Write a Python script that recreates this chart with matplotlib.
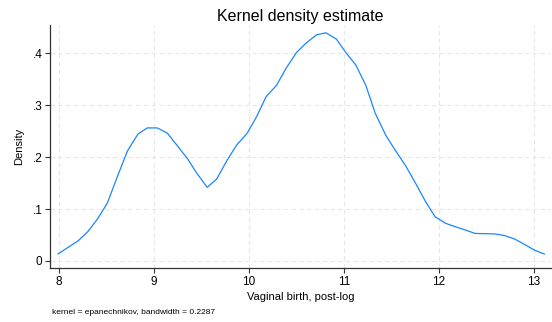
import matplotlib
matplotlib.use('Agg')
import matplotlib.pyplot as plt
from matplotlib.ticker import FuncFormatter

plt.rcParams['font.family'] = ['Liberation Sans', 'DejaVu Sans']

# kernel density evaluation points
x_vals = [7.99, 8.09, 8.20, 8.30, 8.41, 8.51, 8.62, 8.72, 8.83, 8.93,
          9.035, 9.14, 9.24, 9.35, 9.45, 9.56, 9.66, 9.77, 9.87, 9.98,
          10.08, 10.18, 10.29, 10.39, 10.50, 10.60, 10.71, 10.81, 10.92, 11.02,
          11.125, 11.23, 11.33, 11.44, 11.54, 11.65, 11.75, 11.86, 11.96, 12.07,
          12.17, 12.28, 12.38, 12.48, 12.59, 12.69, 12.80, 12.90, 13.01, 13.11]
density = [0.0135, 0.0256, 0.0385, 0.0558, 0.082, 0.112, 0.165, 0.2115, 0.244, 0.256,
           0.256, 0.246, 0.223, 0.1975, 0.169, 0.1417, 0.1577, 0.194, 0.223, 0.2455,
           0.2775, 0.316, 0.338, 0.3705, 0.401, 0.419, 0.435, 0.439, 0.427, 0.401,
           0.377, 0.338, 0.284, 0.242, 0.213, 0.183, 0.151, 0.114, 0.085, 0.0725,
           0.066, 0.0596, 0.053, 0.0526, 0.052, 0.049, 0.042, 0.032, 0.0205, 0.0135]
xticks = [8, 9, 10, 11, 12, 13]
yticks = [0, 0.1, 0.2, 0.3, 0.4]

W, H = 552, 322
fig = plt.figure(figsize=(W / 100, H / 100), dpi=100)
ax = fig.add_axes([50 / W, (H - 268) / H, (551 - 50) / W, (268 - 25) / H])

ax.plot(x_vals, density, color='#1a85ff', lw=0.9)

ax.set_xlim(7.905, 13.18)
ax.set_ylim(-0.0135, 0.454)
ax.set_xticks(xticks)
ax.set_yticks(yticks)
ax.yaxis.set_major_formatter(FuncFormatter(lambda v, p: '0' if v == 0 else ('%.1f' % v).lstrip('0')))
ax.grid(True, color='#e6e6e6', ls=(0, (4, 3)), lw=0.8)
ax.set_axisbelow(True)
for s in ['top', 'right']:
    ax.spines[s].set_visible(False)
for s in ['left', 'bottom']:
    ax.spines[s].set_color('#333333')
    ax.spines[s].set_linewidth(0.9)
ax.tick_params(length=3.5, width=0.8, color='#333333', labelsize=8.5, pad=2)

ax.set_title('Kernel density estimate', fontsize=11.5, pad=3)
ax.set_xlabel('Vaginal birth, post-log', fontsize=8, labelpad=3)
ax.set_ylabel('Density', fontsize=8, labelpad=6)
fig.text(52 / W, 1 - 313 / H, 'kernel = epanechnikov, bandwidth = 0.2287', fontsize=6, va='center')

fig.savefig('out.png', dpi=100)
